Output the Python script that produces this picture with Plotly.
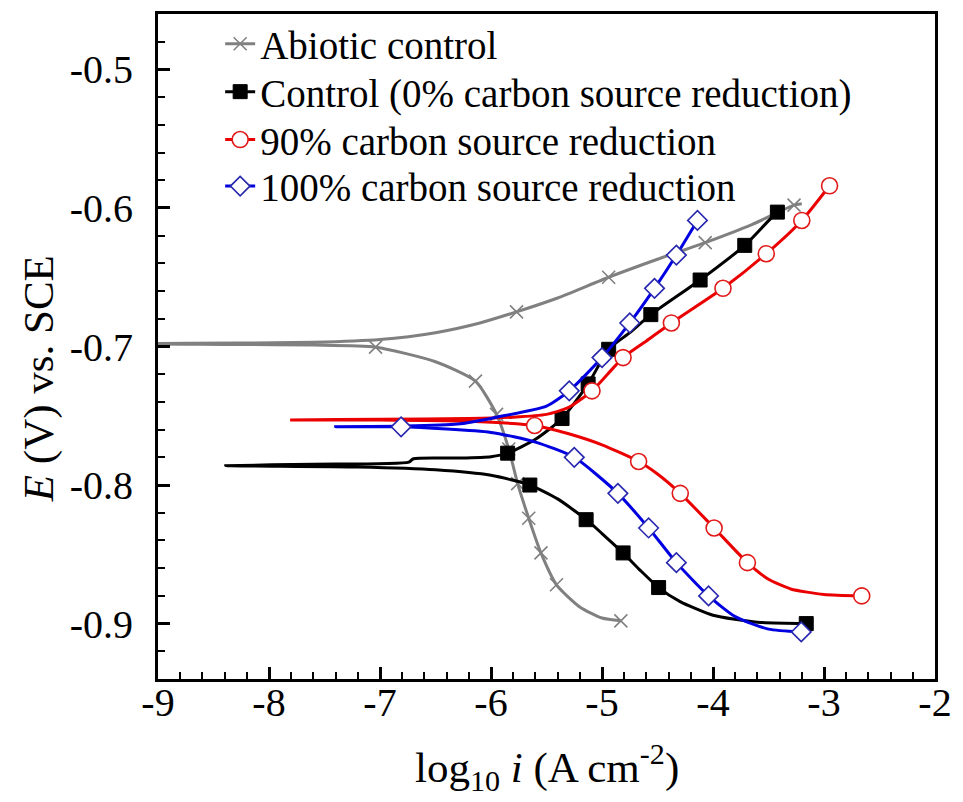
import plotly.graph_objects as go

# ---- Polarisation curves: log10 i (A cm^-2) vs E (V vs SCE) ----
# Each curve runs from the cathodic end, through Ecorr, to the anodic end.

abiotic_logi = [-4.83, -5.0, -5.2, -5.41, -5.55, -5.66, -5.76, -5.84, -5.95, -6.14, -6.5,
                -7.04, -7.6, -8.3, -9.2,
                -8.3, -7.6, -7.0, -6.5, -6.1, -5.77, -5.4, -4.94, -4.5, -4.07, -3.65, -3.27, -3.2]
abiotic_E = [-0.898, -0.896, -0.888, -0.872, -0.849, -0.824, -0.799, -0.774, -0.749, -0.725, -0.711,
             -0.7005, -0.699, -0.6985, -0.698,
             -0.6975, -0.697, -0.695, -0.690, -0.683, -0.675, -0.665, -0.650, -0.637, -0.625, -0.612, -0.598, -0.597]
abiotic_mk_logi = [-7.04, -6.14, -5.95, -5.84, -5.76, -5.66, -5.55, -5.41, -4.83,
                   -5.77, -4.94, -4.07, -3.27]
abiotic_mk_E = [-0.7005, -0.725, -0.749, -0.774, -0.799, -0.824, -0.849, -0.872, -0.898,
                -0.675, -0.650, -0.625, -0.598]

control_logi = [-3.16, -3.6, -4.0, -4.3, -4.49, -4.65, -4.81, -5.0, -5.14, -5.4, -5.65, -6.0,
                -6.5, -7.2, -8.39,
                -7.6, -6.74, -6.70, -6.3, -6.0, -5.85, -5.6, -5.36, -5.125, -4.94, -4.75,
                -4.56, -4.116, -3.714, -3.42, -3.38]
control_E = [-0.900, -0.899, -0.894, -0.884, -0.874, -0.862, -0.849, -0.835, -0.825, -0.810,
             -0.800, -0.793, -0.789, -0.787, -0.786,
             -0.785, -0.7835, -0.781, -0.7805, -0.7795, -0.777, -0.767, -0.752, -0.727,
             -0.702, -0.690, -0.677, -0.652, -0.627, -0.603, -0.602]
control_mk_logi = [-5.65, -5.143, -4.81, -4.49, -3.16,
                   -5.85, -5.36, -5.125, -4.94, -4.56, -4.116, -3.714, -3.42]
control_mk_E = [-0.800, -0.825, -0.849, -0.874, -0.900,
                -0.777, -0.752, -0.727, -0.702, -0.677, -0.652, -0.627, -0.603]

red90_logi = [-2.66, -3.0, -3.3, -3.5, -3.69, -3.99, -4.295, -4.5, -4.67, -5.0, -5.3, -5.607,
              -6.2, -7.0, -7.81,
              -7.0, -6.2, -5.8, -5.5, -5.3, -5.09, -4.95, -4.81, -4.6, -4.375, -3.91, -3.52,
              -3.2, -2.95]
red90_E = [-0.880, -0.879, -0.875, -0.868, -0.856, -0.831, -0.806, -0.792, -0.783, -0.771,
           -0.763, -0.757, -0.754, -0.753, -0.753,
           -0.7525, -0.752, -0.751, -0.749, -0.744, -0.732, -0.720, -0.708, -0.696, -0.683,
           -0.658, -0.633, -0.609, -0.584]
red90_mk_logi = [-5.607, -4.67, -4.295, -3.99, -3.69, -2.66,
                 -5.09, -4.81, -4.375, -3.91, -3.52, -3.2, -2.95]
red90_mk_E = [-0.757, -0.783, -0.806, -0.831, -0.856, -0.880,
              -0.732, -0.708, -0.683, -0.658, -0.633, -0.609, -0.584]

blue100_logi = [-3.205, -3.5, -3.8, -4.04, -4.33, -4.58, -4.857, -5.25, -5.6, -6.0, -6.81, -7.4,
                -6.81, -6.3, -5.95, -5.5, -5.295, -5.0, -4.75, -4.527, -4.33, -4.14]
blue100_E = [-0.906, -0.904, -0.895, -0.880, -0.856, -0.831, -0.806, -0.780, -0.769, -0.762,
             -0.758, -0.758,
             -0.7575, -0.756, -0.751, -0.743, -0.732, -0.708, -0.683, -0.658, -0.634, -0.609]
blue100_mk_logi = [-6.81, -5.25, -4.857, -4.58, -4.33, -4.04, -3.205,
                   -5.295, -5.0, -4.75, -4.527, -4.33, -4.14]
blue100_mk_E = [-0.758, -0.780, -0.806, -0.831, -0.856, -0.880, -0.906,
                -0.732, -0.708, -0.683, -0.658, -0.634, -0.609]

series_names = ["Abiotic control",
                "Control (0% carbon source reduction)",
                "90% carbon source reduction",
                "100% carbon source reduction"]

x_ticks = [-9, -8, -7, -6, -5, -4, -3, -2]
x_ticktext = ["-9", "-8", "-7", "-6", "-5", "-4", "-3", "-2"]
y_ticks = [-0.9, -0.8, -0.7, -0.6, -0.5]
y_ticktext = ["-0.9", "-0.8", "-0.7", "-0.6", "-0.5"]

FONT = "Liberation Serif, Times New Roman, serif"

styles = [
    dict(line=dict(color="rgb(128,128,128)", width=3),
         marker=dict(symbol="x-thin", size=13, color="rgb(128,128,128)",
                     line=dict(color="rgb(128,128,128)", width=1.6))),
    dict(line=dict(color="black", width=3),
         marker=dict(symbol="square", size=14, color="black",
                     line=dict(color="black", width=1))),
    dict(line=dict(color="rgb(235,0,0)", width=3),
         marker=dict(symbol="circle", size=16, color="white",
                     line=dict(color="rgb(225,25,25)", width=1.6))),
    dict(line=dict(color="rgb(0,0,225)", width=3),
         marker=dict(symbol="diamond", size=15, color="white",
                     line=dict(color="rgb(40,40,175)", width=1.6))),
]

curves = [
    (abiotic_logi, abiotic_E, abiotic_mk_logi, abiotic_mk_E),
    (control_logi, control_E, control_mk_logi, control_mk_E),
    (red90_logi, red90_E, red90_mk_logi, red90_mk_E),
    (blue100_logi, blue100_E, blue100_mk_logi, blue100_mk_E),
]

legend_names = ["legend", "legend2", "legend3", "legend4"]

fig = go.Figure()
for i, (name, (cx, cy, mx, my), st) in enumerate(zip(series_names, curves, styles)):
    fig.add_trace(go.Scatter(x=cx, y=cy, mode="lines", line=st["line"],
                             line_shape="spline", line_smoothing=0.6,
                             showlegend=False, hoverinfo="skip"))
    fig.add_trace(go.Scatter(x=mx, y=my, mode="markers", marker=st["marker"],
                             showlegend=False, name=name))
    # legend entry (line + symbol)
    fig.add_trace(go.Scatter(x=[None], y=[None], mode="lines+markers", name=name,
                             line=st["line"], marker=st["marker"],
                             legend=legend_names[i], showlegend=True))

# legend rows placed individually
row_y = [0.955, 0.883, 0.811, 0.741]
legend_common = dict(x=0.080, xanchor="left", yanchor="middle",
                     bgcolor="rgba(0,0,0,0)", borderwidth=0,
                     font=dict(family=FONT, size=39, color="black"))
fig.update_layout(
    legend=dict(y=row_y[0], **legend_common),
    legend2=dict(y=row_y[1], **legend_common),
    legend3=dict(y=row_y[2], **legend_common),
    legend4=dict(y=row_y[3], **legend_common),
)

axis_common = dict(showline=True, linecolor="black", linewidth=3, mirror=True,
                   ticks="inside", tickcolor="black", tickwidth=2.5, ticklen=12,
                   showgrid=False, zeroline=False,
                   tickfont=dict(family=FONT, size=40, color="black"))

fig.update_xaxes(range=[-9, -2], tickmode="array", tickvals=x_ticks, ticktext=x_ticktext,
                 minor=dict(tickmode="linear", tick0=-9, dtick=0.2, ticks="inside",
                            ticklen=7, tickwidth=2, tickcolor="black"),
                 ticklabelstandoff=-14, **axis_common)
fig.update_yaxes(range=[-0.94, -0.46], tickmode="array", tickvals=y_ticks, ticktext=y_ticktext,
                 minor=dict(tickmode="linear", tick0=-0.5, dtick=0.02, ticks="inside",
                            ticklen=7, tickwidth=2, tickcolor="black"),
                 ticklabelstandoff=14, **axis_common)

fig.update_layout(
    width=963, height=802,
    margin=dict(l=158, r=21, t=11, b=123),
    paper_bgcolor="white", plot_bgcolor="white",
    font=dict(family=FONT, color="black"),
    annotations=[
        dict(text="log<sub>10</sub> <i>i</i> (A cm<sup>-2</sup>)", xref="paper", yref="paper",
             x=0.5, y=-0.133, xanchor="center", yanchor="middle", showarrow=False,
             font=dict(family=FONT, size=43, color="black")),
        dict(text="<i>E</i> (V) vs. SCE", xref="paper", yref="paper",
             x=-0.153, y=0.451, xanchor="center", yanchor="middle", textangle=-90,
             showarrow=False, font=dict(family=FONT, size=43, color="black")),
    ],
)

fig.write_html("out.html")
